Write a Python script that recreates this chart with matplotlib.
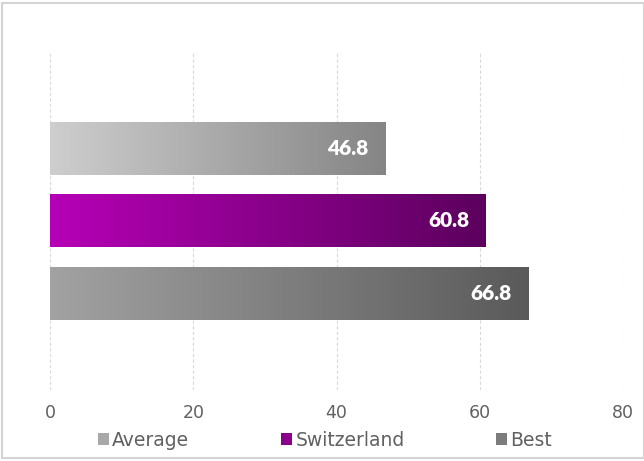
import matplotlib
matplotlib.use("Agg")
import matplotlib.pyplot as plt
import numpy as np
from matplotlib.colors import LinearSegmentedColormap
from matplotlib.patches import Rectangle

categories = ["Average", "Switzerland", "Best"]
values = [46.8, 60.8, 66.8]
xticks = [0, 20, 40, 60, 80]
grad_colors = [("#cecece", "#858585"), ("#b600b6", "#5c005e"), ("#a2a2a2", "#5a5a5a")]

plt.rcParams['font.family'] = ['DejaVu Sans']

fig = plt.figure(figsize=(6.44, 4.61), dpi=100)
fig.patches.append(Rectangle((2/644, 3/461), 1 - 2/644, 1 - 6/461, transform=fig.transFigure,
                             fill=False, edgecolor="#d4d4d4", linewidth=1.5))
ax = fig.add_axes([50/644, 1 - 390/461, (623 - 50)/644, (390 - 52)/461])
h = 0.726
for i, (v, (c1, c2)) in enumerate(zip(values, grad_colors)):
    cmap = LinearSegmentedColormap.from_list(f"g{i}", [c1, c2])
    grad = np.linspace(0, 1, 256).reshape(1, -1)
    ax.imshow(grad, cmap=cmap, aspect="auto", extent=(0, v, i + h / 2, i - h / 2),
              interpolation="bilinear", zorder=2)
    ax.text(v - 2.3, i, f"{v:.1f}", ha="right", va="center", color="white",
            fontsize=15, fontweight="heavy", family="Lato", zorder=3)
ax.set_xlim(0, 80)
ax.set_ylim(2 + 1.32, -1.32)
ax.set_xticks(xticks)
ax.set_xticklabels([str(t) for t in xticks], color="#606060", fontsize=12.5)
ax.set_yticks([])
ax.tick_params(axis="x", length=0, pad=10)
for s in ax.spines.values():
    s.set_visible(False)
ax.grid(axis="x", color="#d9d9d9", linestyle=(0, (3, 2)), linewidth=0.8, zorder=0)
ax.set_axisbelow(True)

# legend
legend_colors = ["#a8a8a8", "#8a008c", "#7c7c7c"]
handles = [Rectangle((0, 0), 1, 1, facecolor=c, edgecolor="none") for c in legend_colors]
fig.legend(handles, categories, loc="center", bbox_to_anchor=(0.505, 1 - 440/461), ncol=3,
           frameon=False, fontsize=13.5, handlelength=0.55, handleheight=0.55, handletextpad=0.2,
           columnspacing=4.9, labelcolor="#606060")
fig.savefig("out.png", dpi=100)
